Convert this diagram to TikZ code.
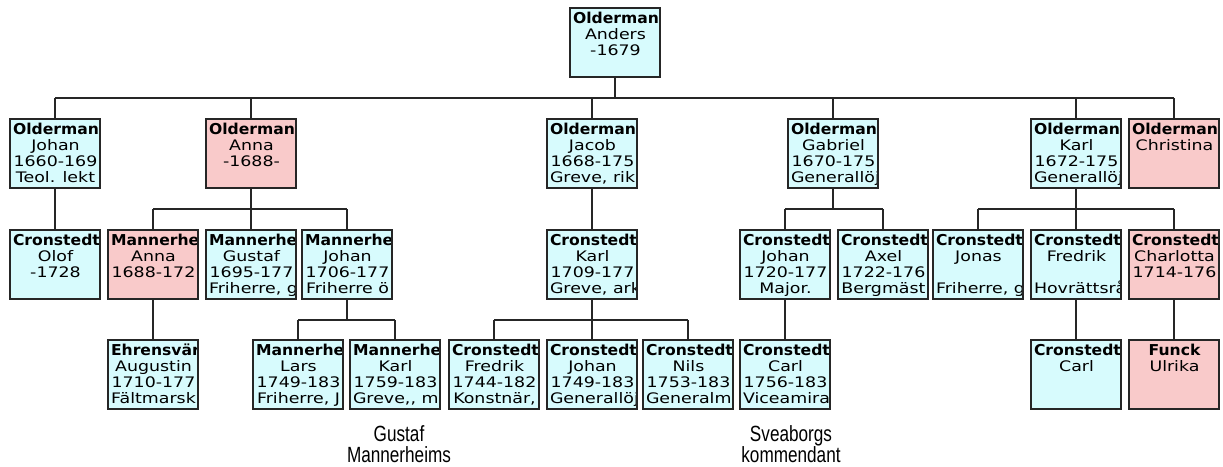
\documentclass[tikz,border=0pt]{standalone}
\usepackage{fontspec}
\newfontfamily\bxfont[FakeStretch=1.2]{DejaVu Sans}
\newfontfamily\bxbfont[FakeStretch=1.04]{DejaVu Sans Bold}
\newfontfamily\capfont[FakeStretch=0.78]{Liberation Sans}
\hfuzz=1000pt \hbadness=10000 \vfuzz=1000pt \vbadness=10000
\definecolor{cy}{HTML}{D7FBFD}
\definecolor{pk}{HTML}{F9CACA}
\definecolor{lnc}{HTML}{262626}
\newcommand\bxl[1]{\hbox to 85pt{\hskip 0pt plus 1fil\relax #1\hskip 0pt plus 1fil minus 1fil\relax}}
\newcommand\bxh[1]{\bxl{\bxbfont\fontsize{15}{16}\selectfont #1}}
\tikzset{
  box/.style={rectangle, anchor=north west, minimum width=90pt, minimum height=69pt, inner sep=0pt, outer sep=0pt, draw=none},
  boxline/.style={draw=lnc, line width=1.6pt},
  conn/.style={draw=lnc, line width=1.8pt},
  bxtext/.style={anchor=base west, inner sep=0pt, outer sep=0pt},
  captext/.style={anchor=base, inner sep=0pt, font=\capfont\fontsize{22}{21}\selectfont}
}
\newcommand\person[5]{%
  \node[box, fill=#4] (#1) at (#2,#3) {};
  \begin{scope}
    \clip (#1.north west) rectangle (#1.south east);
    \node[bxtext] (#1-t) at ([xshift=3pt,yshift=-15pt]#1.north west)
      {\vtop{\bxfont\fontsize{14.5}{16.3}\selectfont\baselineskip=16.3pt\lineskiplimit=-100pt #5}};
  \end{scope}
  \draw[boxline] (#1.north west) rectangle (#1.south east);
}
\begin{document}
\begin{tikzpicture}[x=1pt,y=-1pt]
\useasboundingbox[fill=white] (0,0) rectangle (1223,466);
% bus coordinates
\coordinate (bus0) at (0,98);
\coordinate (bus1) at (0,209);
\coordinate (bus2) at (0,320);

% level 0
\person{anders}{570}{8}{cy}{\bxh{Olderman}\bxl{Anders}\bxl{-1679}}
% level 1
\person{ojohan}{10}{119}{cy}{\bxh{Olderman}\bxl{Johan}\bxl{1660-169}\bxl{Teol. lekt}}
\person{oanna}{206}{119}{pk}{\bxh{Olderman}\bxl{Anna}\bxl{-1688-}}
\person{ojacob}{547}{119}{cy}{\bxh{Olderman}\bxl{Jacob}\bxl{1668-175}\bxl{Greve, rik}}
\person{ogabriel}{788}{119}{cy}{\bxh{Olderman}\bxl{Gabriel}\bxl{1670-175}\bxl{Generallöj}}
\person{okarl}{1031}{119}{cy}{\bxh{Olderman}\bxl{Karl}\bxl{1672-175}\bxl{Generallöj}}
\person{ochristina}{1129}{119}{pk}{\bxh{Olderman}\bxl{Christina}}
% level 2
\person{colof}{10}{230}{cy}{\bxh{Cronstedt}\bxl{Olof}\bxl{-1728}}
\person{manna}{108}{230}{pk}{\bxh{Mannerhe}\bxl{Anna}\bxl{1688-172}}
\person{mgustaf}{206}{230}{cy}{\bxh{Mannerhe}\bxl{Gustaf}\bxl{1695-177}\bxl{Friherre, g}}
\person{mjohan}{302}{230}{cy}{\bxh{Mannerhe}\bxl{Johan}\bxl{1706-177}\bxl{Friherre ö}}
\person{ckarl}{547}{230}{cy}{\bxh{Cronstedt}\bxl{Karl}\bxl{1709-177}\bxl{Greve, ark}}
\person{cjohan}{740}{230}{cy}{\bxh{Cronstedt}\bxl{Johan}\bxl{1720-177}\bxl{Major.}}
\person{caxel}{838}{230}{cy}{\bxh{Cronstedt}\bxl{Axel}\bxl{1722-176}\bxl{Bergmäst}}
\person{cjonas}{933}{230}{cy}{\bxh{Cronstedt}\bxl{Jonas}\bxl{}\bxl{Friherre, g}}
\person{cfredrik}{1031}{230}{cy}{\bxh{Cronstedt}\bxl{Fredrik}\bxl{}\bxl{Hovrättsråd}}
\person{ccharlotta}{1129}{230}{pk}{\bxh{Cronstedt}\bxl{Charlotta}\bxl{1714-176}}
% level 3
\person{eaugustin}{108}{340}{cy}{\bxh{Ehrensvär}\bxl{Augustin}\bxl{1710-177}\bxl{Fältmarsk}}
\person{mlars}{253}{340}{cy}{\bxh{Mannerhe}\bxl{Lars}\bxl{1749-183}\bxl{Friherre, J}}
\person{mkarl}{350}{340}{cy}{\bxh{Mannerhe}\bxl{Karl}\bxl{1759-183}\bxl{Greve,, m}}
\person{cfredrikb}{449}{340}{cy}{\bxh{Cronstedt}\bxl{Fredrik}\bxl{1744-182}\bxl{Konstnär,}}
\person{cjohanb}{547}{340}{cy}{\bxh{Cronstedt}\bxl{Johan}\bxl{1749-183}\bxl{Generallöj}}
\person{cnils}{643}{340}{cy}{\bxh{Cronstedt}\bxl{Nils}\bxl{1753-183}\bxl{Generalm}}
\person{ccarl}{740}{340}{cy}{\bxh{Cronstedt}\bxl{Carl}\bxl{1756-183}\bxl{Viceamira}}
\person{ccarlb}{1031}{340}{cy}{\bxh{Cronstedt}\bxl{Carl}}
\person{funck}{1129}{340}{pk}{\bxh{Funck}\bxl{Ulrika}}

% connectors: Anders -> children
\draw[conn] (anders.south) -- (anders.south |- bus0);
\draw[conn] (ojohan.north |- bus0) -- (ochristina.north |- bus0);
\foreach \c in {ojohan,oanna,ojacob,ogabriel,okarl,ochristina}
  \draw[conn] (\c.north) -- (\c.north |- bus0);
% single-child lines
\draw[conn] (ojohan.south) -- (colof.north);
\draw[conn] (ojacob.south) -- (ckarl.north);
\draw[conn] (manna.south) -- (eaugustin.north);
\draw[conn] (cjohan.south) -- (ccarl.north);
\draw[conn] (cfredrik.south) -- (ccarlb.north);
\draw[conn] (ccharlotta.south) -- (funck.north);
% Anna -> children
\draw[conn] (oanna.south) -- (oanna.south |- bus1);
\draw[conn] (manna.north |- bus1) -- (mjohan.north |- bus1);
\foreach \c in {manna,mgustaf,mjohan}
  \draw[conn] (\c.north) -- (\c.north |- bus1);
% Gabriel -> children
\draw[conn] (ogabriel.south) -- (ogabriel.south |- bus1);
\draw[conn] (cjohan.north |- bus1) -- (caxel.north |- bus1);
\foreach \c in {cjohan,caxel}
  \draw[conn] (\c.north) -- (\c.north |- bus1);
% Karl 1672 -> children
\draw[conn] (okarl.south) -- (okarl.south |- bus1);
\draw[conn] (cjonas.north |- bus1) -- (ccharlotta.north |- bus1);
\foreach \c in {cjonas,cfredrik,ccharlotta}
  \draw[conn] (\c.north) -- (\c.north |- bus1);
% Mannerheim Johan -> children
\draw[conn] (mjohan.south) -- (mjohan.south |- bus2);
\draw[conn] (mlars.north |- bus2) -- (mkarl.north |- bus2);
\foreach \c in {mlars,mkarl}
  \draw[conn] (\c.north) -- (\c.north |- bus2);
% Cronstedt Karl -> children
\draw[conn] (ckarl.south) -- (ckarl.south |- bus2);
\draw[conn] (cfredrikb.north |- bus2) -- (cnils.north |- bus2);
\foreach \c in {cfredrikb,cjohanb,cnils}
  \draw[conn] (\c.north) -- (\c.north |- bus2);

% captions
\node[captext] (cap1) at (399,441) {\vtop{\baselineskip=21pt\hbox to 0pt{\hss Gustaf\hss}\hbox to 0pt{\hss Mannerheims\hss}}};
\node[captext] (cap2) at (791,441) {\vtop{\baselineskip=21pt\hbox to 0pt{\hss Sveaborgs\hss}\hbox to 0pt{\hss kommendant\hss}}};
\end{tikzpicture}
\end{document}
